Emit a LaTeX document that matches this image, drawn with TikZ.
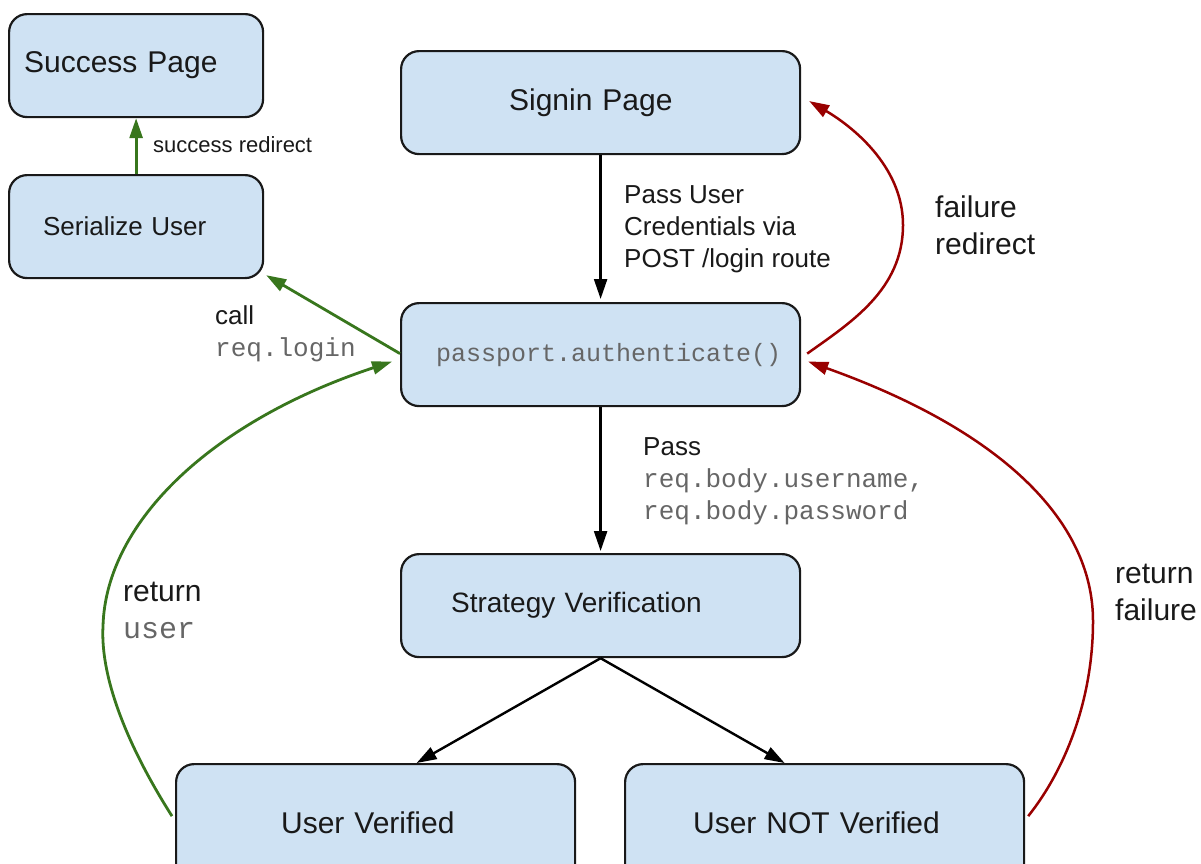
\documentclass[tikz,border=0pt]{standalone}
\usepackage{fontspec}
\setmainfont{Liberation Sans}
\setmonofont{Liberation Mono}
\usetikzlibrary{arrows.meta,calc}
\definecolor{boxfill}{HTML}{CFE2F3}
\definecolor{okgreen}{HTML}{38761D}
\definecolor{failred}{HTML}{990000}
\definecolor{codegray}{HTML}{666666}
\newcommand{\fsz}[2]{\fontsize{#1}{#2}\selectfont}
\newcommand{\code}[1]{{\ttfamily\color{codegray}#1}}
\newcommand{\lines}[1]{\begin{tabular}[t]{@{}l@{}}#1\end{tabular}}

\begin{document}
\begin{tikzpicture}[x=1pt,y=-1pt,
  box/.style={draw=black!90, line width=2.2pt, fill=boxfill, rounded corners=18pt,
    inner ysep=0pt, align=left, anchor=north west, text=black!90},
  lbl/.style={inner sep=0pt, anchor=base west, text=black!90},
  tip/.style={-{Triangle[length=20pt,width=13pt]}},
  blk/.style={tip, line width=2.4pt, draw=black},
  grn/.style={tip, line width=2.8pt, draw=okgreen},
  rd/.style={tip, line width=2.5pt, draw=failred}]

\useasboundingbox (0,0) rectangle (1201,863);

% boxes
\node[box, minimum width=254pt, minimum height=103pt, inner xsep=15pt, text width=224pt,
  font=\fsz{30}{36}] (succ) at (8,13) {Success Page};
\node[box, minimum width=254pt, minimum height=103pt, inner xsep=34pt, text width=186pt,
  font=\fsz{26}{32}] (ser) at (8,174) {Serialize User};
\node[box, minimum width=399pt, minimum height=103pt, inner xsep=108pt, text width=183pt,
  font=\fsz{30}{36}] (signin) at (400,50) {Signin Page};
\node[box, minimum width=399pt, minimum height=103pt, inner xsep=35pt, text width=329pt,
  font=\fsz{25}{30}\ttfamily, text=codegray] (auth) at (400,302) {passport.authenticate()};
\node[box, minimum width=399pt, minimum height=103pt, inner xsep=50pt, text width=299pt,
  font=\fsz{28}{34}] (strat) at (400,553) {Strategy Verification};
\node[box, minimum width=399pt, minimum height=118pt, inner xsep=105pt, text width=189pt,
  font=\fsz{30}{36}] (uv) at (175,763) {User Verified};
\node[box, minimum width=399pt, minimum height=118pt, inner xsep=68pt, text width=263pt,
  font=\fsz{30}{36}] (unv) at (624,763) {User NOT Verified};

% main flow
\draw[blk] (signin.south) -- ($(auth.north)+(0,-3)$);
\draw[blk] (auth.south) -- ($(strat.north)+(0,-2)$);
\draw[blk] (strat.south) -- ($(uv.north)+(41,0)$);
\draw[blk] (strat.south) -- ($(unv.north)+(-40,0)$);

% success path
\draw[grn] (ser.north) -- (succ.south);
\draw[grn] ($(auth.west)+(0,-1)$) -- ($(ser.south east)+(2,-4)$);
\draw[grn] ($(uv.west)+(-3,-7)$) .. controls (130,750) and (100,680) .. (103,626)
  .. controls (106,520) and (215,420) .. ($(auth.west)+(-8,7)$);

% failure path
\draw[rd] ($(auth.east)+(6,-1)$) .. controls (850,323) and (903,290) .. (903,225)
  .. controls (903,165) and (850,125) .. ($(signin.east)+(8,-1.5)$);
\draw[rd] ($(unv.east)+(3,-7)$) .. controls (1065,770) and (1093,700) .. (1093,621)
  .. controls (1093,520) and (1000,430) .. ($(auth.east)+(7,7)$);

% labels
\node[lbl, font=\fsz{22}{27}] (lsucc) at (153,152) {success redirect};
\node[lbl, font=\fsz{26}{32}] (lcred) at (624,203)
  {\lines{Pass User\\Credentials via\\POST /login route}};
\node[lbl, font=\fsz{30}{37}] (lfred) at (935,217) {\lines{failure\\redirect}};
\node[lbl, font=\fsz{26}{32}] (lcall) at (215,324) {\lines{call\\\code{req.login}}};
\node[lbl, font=\fsz{26}{32}] (lbody) at (643,455)
  {\lines{Pass\\\code{req.body.username,}\\\code{req.body.password}}};
\node[lbl, font=\fsz{30}{37}] (luser) at (123,601) {\lines{return\\\code{user}}};
\node[lbl, font=\fsz{30}{37}] (lfail) at (1115,583) {\lines{return\\failure}};

\end{tikzpicture}
\end{document}
